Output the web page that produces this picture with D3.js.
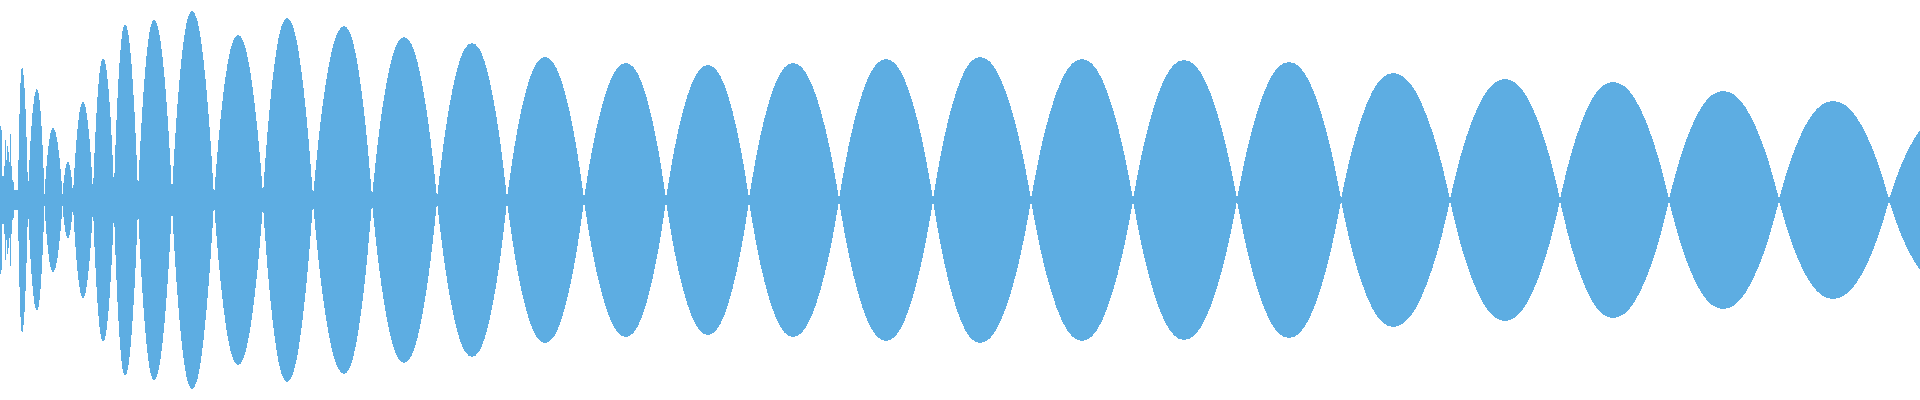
<!doctype html>
<html lang="en">
<head>
  <meta charset="utf-8">
  <title>Waveform</title>
  <style>
    html, body { margin: 0; padding: 0; background: #fff; overflow: hidden; }
    svg { display: block; }
  </style>
</head>
<body>
  <svg id="wave"></svg>

<script src="https://cdnjs.cloudflare.com/ajax/libs/d3/7.8.5/d3.min.js"></script>
<script>
  //
  // Data (sample position, amplitude -1..1)
  //

  // noisy attack at the very start, one value per sample column
  var headX = [0, 1, 2, 3, 4, 5, 6, 7, 8, 9, 10, 11, 12, 13, 14, 15, 16, 17, 18]
  var headAmp = [0.37, 0.35, 0.12, 0.12, 0.17, 0.30, 0.20, 0.27, 0.24, 0.19, 0.33, 0.17, 0.10, 0.09, 0.05, 0.05, 0.05, 0.05, 0.05]

  // envelope zero crossings (the pinch points) and the amplitude left there
  var crossX = [18, 28, 44.5, 62.5, 73, 93, 114, 138, 172, 214, 263, 313, 372, 437, 507, 584, 666, 749, 839, 933, 1031, 1133, 1237, 1341, 1450, 1560, 1669, 1779, 1889, 2000]
  var crossAmp = [0.05, 0.04, 0.03, 0.03, 0.03, 0.04, 0.06, 0.04, 0.035, 0.015, 0.03, 0.015, 0.015, 0.01, 0.01, 0.008, 0.008, 0.008, 0.006, 0.006, 0.006, 0.005, 0.005, 0.005, 0.005, 0.005, 0.005, 0.005, 0.005, 0.005]

  // beat peaks between the crossings
  var peakX = [22, 37, 53, 68, 83, 103, 125, 154, 192, 238, 287, 344, 404, 472, 545, 626, 708, 793, 886, 980, 1082, 1184, 1289, 1393, 1505, 1613, 1723, 1833, 1944]
  var peakAmp = [0.665, 0.555, 0.36, 0.19, 0.49, 0.71, 0.88, 0.90, 0.945, 0.825, 0.91, 0.87, 0.815, 0.785, 0.715, 0.685, 0.675, 0.685, 0.705, 0.715, 0.705, 0.70, 0.69, 0.635, 0.605, 0.59, 0.545, 0.495, 0.425]

  // shape of half a beat: share of the way crossing -> peak, share of peak height
  var profileU = [0, 0.2, 0.4, 0.6, 0.8, 1]
  var profileA = [0, 0.37, 0.65, 0.85, 0.965, 1]

  //
  // Configuration
  //

  var width = 1920
  var height = 400
  var colorWave = '#5dade2'

  var svg = d3.select('#wave')
    .attr('width', width)
    .attr('height', height)

  var x = d3.scaleLinear().domain([0, 1920]).range([0, width])
  var y = d3.scaleLinear().domain([-1, 1]).range([height, 0])

  function area(curve) {
    return d3.area()
      .x(function (d) { return x(d.x) })
      .y0(function (d) { return y(-d.a) })
      .y1(function (d) { return y(d.a) })
      .curve(curve)
  }

  var g = svg.append('g')
    .attr('fill', colorWave)
    .attr('shape-rendering', 'crispEdges')

  // start of the signal
  var head = headX.map(function (v, i) { return { x: v, a: headAmp[i] } })
  g.append('path')
    .attr('d', area(d3.curveStepAfter)(head))

  // thin band joining the pinch points
  var band = crossX.map(function (v, i) { return { x: v, a: crossAmp[i] } })
  g.append('path')
    .attr('d', area(d3.curveLinear)(band))

  // one lobe per beat, rising crossing -> peak, then mirrored down to the next crossing
  var lobes = peakX.map(function (p, i) {
    var x0 = crossX[i], a0 = crossAmp[i]
    var x1 = crossX[i + 1], a1 = crossAmp[i + 1]
    var top = peakAmp[i]
    var pts = []
    profileU.forEach(function (u, k) {
      pts.push({ x: x0 + (p - x0) * u, a: a0 + (top - a0) * profileA[k] })
    })
    for (var k = profileU.length - 2; k >= 0; k--) {
      pts.push({ x: x1 - (x1 - p) * profileU[k], a: a1 + (top - a1) * profileA[k] })
    }
    return pts
  })

  g.selectAll('path.lobe')
    .data(lobes)
    .enter()
    .append('path')
    .attr('class', 'lobe')
    .attr('d', area(d3.curveMonotoneX))
</script>
</body>
</html>
